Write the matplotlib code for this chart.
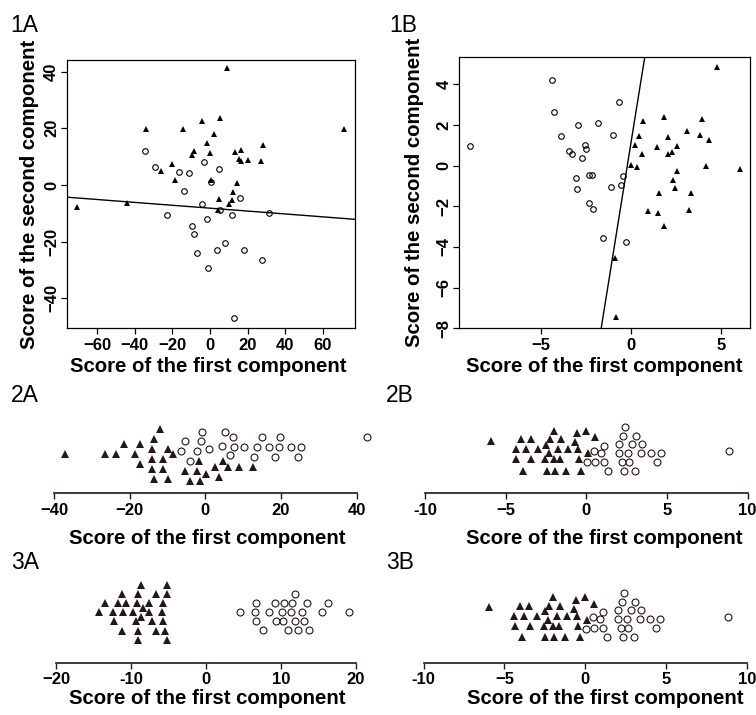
import matplotlib
matplotlib.use('Agg')
import matplotlib.pyplot as plt

plt.rcParams['font.family'] = ['Liberation Sans', 'DejaVu Sans']

# ---------------------------------------------------------------------------
# data
# ---------------------------------------------------------------------------
# 1A: PCA scores, triangles = group 1, circles = group 2
tri1A_x = [8.9, -34.0, -14.5, -4.1, 5.5, 2.3, -1.4, 0.0, -8.3, -9.6, 13.5, 16.5, 15.6, 16.3, 20.0,
           28.4, 27.1, 71.3, -20.2, -26.1, -18.8, 0.5, 14.2, 12.1, 5.0, 11.7, 9.9, 4.4, -70.9, -44.3]
tri1A_y = [41.2, 19.7, 19.7, 22.7, 23.8, 18.0, 14.9, 11.2, 12.0, 10.4, 11.5, 12.5, 9.3, 8.5, 8.7,
           14.0, 8.5, 19.7, 7.3, 4.8, 1.8, 1.8, 0.7, -2.6, -5.0, -5.4, -6.9, -8.8, -7.9, -6.5]
cir1A_x = [-34.6, -29.4, -16.3, -11.3, -3.4, 4.6, 0.5, -13.7, 16.0, -4.4, -23.0, 5.2, 11.5, 31.4,
           -9.4, -1.8, -8.7, 7.8, -7.1, 3.9, 17.9, 27.5, -1.1, 12.6]
cir1A_y = [12.1, 6.5, 4.5, 4.3, 8.2, 5.6, 1.2, -2.2, -4.7, -6.6, -10.5, -8.9, -10.7, -9.9,
           -14.4, -12.0, -17.4, -20.4, -24.0, -22.8, -22.8, -26.5, -29.3, -46.9]
line1A = (-8.2, -0.051)   # intercept, slope

# 1B
tri1B_x = [4.76, 0.67, 1.82, 3.94, 0.41, 2.02, 3.11, 3.80, 4.32, 0.22, 1.44, 2.54, 0.61, 2.04, 2.28,
           0.00, 0.30, 4.13, 6.04, 2.56, 2.32, 2.44, 1.52, 3.33, 0.94, 1.48, 3.19, 1.82, -0.91, -0.83]
tri1B_y = [4.84, 2.20, 2.38, 2.28, 1.48, 1.40, 1.69, 1.53, 1.28, 1.02, 0.91, 0.97, 0.56, 0.56, 0.66,
           0.01, -0.09, -0.01, -0.17, -0.25, -0.71, -1.10, -1.35, -1.33, -2.21, -2.34, -2.20, -2.97,
           -4.52, -7.46]
cir1B_x = [-8.96, -4.39, -4.28, -2.94, -3.92, -1.87, -0.68, -1.00, -3.46, -3.31, -2.56, -2.50,
           -2.72, -2.37, -2.17, -0.44, -3.06, -3.02, -1.14, -0.59, -2.37, -2.13, -1.57, -0.31]
cir1B_y = [0.99, 4.19, 2.64, 2.00, 1.46, 2.12, 3.11, 1.51, 0.71, 0.58, 1.02, 0.84,
           0.37, -0.47, -0.45, -0.50, -0.60, -1.16, -1.06, -0.94, -1.84, -2.12, -3.54, -3.75]
line1B = (1.22, 5.51)

# 2A: first component only (vertical = jitter)
tri2A_x = [-11.9, -21.4, -17.4, -13.6, -37.1, -26.5, -23.5, -18.6, -14.2, -10.0, -8.5, -17.3, -14.2,
           -11.3, -1.8, 4.8, -14.0, -11.1, -5.3, -2.1, 2.6, 6.1, 8.9, 12.7, 0.1, -13.5, -10.0, -4.0,
           -1.4, 3.6]
tri2A_j = [6.43, 4.93, 4.93, 5.4, 3.93, 3.93, 3.93, 3.93, 4.4, 4.4, 3.93, 2.93, 3.4,
           3.4, 3.23, 3.23, 2.4, 2.4, 2.27, 2.27, 2.6, 2.6, 2.6, 2.6, 1.93, 1.4, 1.4, 1.27,
           1.27, 1.6]
cir2A_x = [-1.0, 5.3, -5.5, -1.1, 7.2, 15.0, 19.8, 42.7, -6.4, -2.1, 1.1, 4.3, 7.7, 10.3, 13.6,
           16.8, 19.6, 22.6, 25.3, -4.0, 6.5, 12.9, 18.5, 24.5]
cir2A_j = [6.17, 6.17, 5.27, 5.27, 5.6, 5.6, 5.6, 5.6, 4.27, 4.27, 4.4, 4.73, 4.6, 4.6, 4.6,
           4.6, 4.6, 4.6, 4.6, 3.27, 3.83, 3.6, 3.6, 3.6]

# 2B (3B shows the same scores)
tri2B_x = [-5.93, -4.03, -3.45, -2.00, -2.25, -1.59, -0.56, 0.00, 0.52, -0.68, -2.52, -4.38, -3.76,
           -2.99, -2.31, -1.73, -1.11, -0.51, 0.08, -4.34, -3.41, -2.58, -2.02, -1.63, -0.43, -3.92,
           -2.46, -1.94, -1.24, -0.31]
tri2B_j = [5.27, 5.4, 5.4, 6.27, 5.4, 5.4, 6.0, 6.27, 5.6, 5.1, 4.83, 4.4, 4.4,
           4.4, 4.0, 4.4, 4.4, 4.4, 4.0, 3.4, 3.4, 3.4, 3.4, 3.4, 3.4, 2.27,
           2.27, 2.27, 2.27, 2.27]
cir2B_x = [2.42, 2.30, 3.06, 1.10, 2.01, 2.83, 3.47, 0.48, 0.89, 2.01, 2.58, 3.37, 4.03, 4.61,
           0.06, 0.52, 1.10, 2.23, 2.63, 4.40, 1.35, 2.32, 3.00, 8.85]
cir2B_j = [6.67, 5.77, 5.77, 4.77, 4.93, 4.93, 4.93, 4.27, 4.07, 4.07, 4.07, 4.07, 4.07, 4.07,
           3.1, 3.17, 3.17, 3.17, 3.17, 3.17, 2.27, 2.27, 2.27, 4.27]

# 3A
tri3A_x = [-8.71, -5.24, -11.24, -9.11, -6.67, -5.24, -13.47, -11.69, -10.71, -9.24, -7.56, -5.78,
           -8.44, -14.22, -12.44, -11.02, -9.69, -7.60, -5.91, -8.67, -12.22, -9.33, -7.24, -5.78,
           -11.24, -9.11, -6.67, -5.47, -9.11, -5.24]
tri3A_j = [7.77, 7.77, 6.87, 6.87, 6.87, 6.87, 5.93, 5.93, 5.93, 5.93, 5.93, 5.93,
           5.5, 5.03, 5.03, 5.03, 5.03, 5.03, 5.03, 4.53, 4.17, 4.17, 4.17, 4.17,
           3.2, 3.2, 3.2, 3.2, 2.27, 2.27]
cir3A_x = [11.87, 6.67, 9.24, 10.40, 11.47, 13.51, 16.22, 4.53, 6.53, 8.44, 10.09, 11.33, 12.80,
           15.42, 19.11, 6.62, 9.33, 10.31, 11.87, 13.07, 7.64, 10.89, 12.22, 13.78]
cir3A_j = [6.87, 6.0, 6.0, 6.0, 6.0, 6.0, 6.0, 5.03, 5.03, 5.03, 5.03, 5.03, 5.03,
           5.03, 5.03, 4.17, 4.17, 4.17, 4.17, 4.17, 3.27, 3.27, 3.27, 3.27]

xlab = 'Score of the first component'
ylab = 'Score of the second component'

# ---------------------------------------------------------------------------
W, H = 756, 715
fig = plt.figure(figsize=(W / 100, H / 100), dpi=100)
INK = '#231815'


def add_ax(l, t, r, b):
    # axes placed by pixel box (left, top, right, bottom)
    return fig.add_axes([l / W, 1 - b / H, (r - l) / W, (b - t) / H])


def bold_ticks(ax):
    for t in ax.get_xticklabels() + ax.get_yticklabels():
        t.set_fontweight('bold')
        t.set_fontsize(12)


def scatter_panel(ax, tx, ty, cx, cy, line, xlim, ylim, xt, xtl, yt, ytl):
    ax.tick_params(axis='x', length=4, width=0.9, pad=3)
    ax.tick_params(axis='y', length=4, width=0.9, pad=1.5)
    ax.plot(cx, cy, 'o', ms=4.0, mfc='none', mec='k', mew=0.8)
    ax.plot(tx, ty, '^', ms=4.6, color='k', mew=0)
    ax.axline((0, line[0]), slope=line[1], color='k', lw=1.0)
    ax.set_xlim(xlim)
    ax.set_ylim(ylim)
    ax.set_xticks(xt, xtl)
    ax.set_yticks(yt, ytl, rotation=90, va='center')
    for s in ax.spines.values():
        s.set_linewidth(0.9)
    bold_ticks(ax)


def strip_panel(ax, tx, tj, cx, cj, xlim, ylim, bounds, xt, xtl):
    ax.tick_params(axis='x', length=4, width=1.0, color=INK, pad=3)
    ax.plot(tx, tj, '^', ms=5.2, color=INK, mew=0, clip_on=False)
    ax.plot(cx, cj, 'o', ms=5.0, mfc='none', mec=INK, mew=0.8, clip_on=False)
    ax.set_xlim(xlim)
    ax.set_ylim(ylim)
    for s in ['top', 'right', 'left']:
        ax.spines[s].set_visible(False)
    ax.spines['bottom'].set_bounds(*bounds)
    ax.spines['bottom'].set_linewidth(1.2)
    ax.spines['bottom'].set_color(INK)
    ax.set_yticks([])
    ax.set_xticks(xt, xtl)
    ax.patch.set_visible(False)
    bold_ticks(ax)


def put_xlabel(ax, xa, ya):
    ax.set_xlabel(xlab, fontsize=14.7, fontweight='bold')
    ax.xaxis.set_label_coords(xa, ya)
    ax.xaxis.label.set_va('baseline')


def put_ylabel(ax, xa):
    ax.set_ylabel(ylab, fontsize=14.7, fontweight='bold')
    ax.yaxis.set_label_coords(xa, 0.5)
    ax.yaxis.label.set_va('baseline')


M = '\u2212'

# 1A
ax = add_ax(66.7, 60, 355, 328.3)
scatter_panel(ax, tri1A_x, tri1A_y, cir1A_x, cir1A_y, line1A, (-76.2, 77.1), (-50.6, 44.1),
              [-60, -40, -20, 0, 20, 40, 60], [M + '60', M + '40', M + '20', '0', '20', '40', '60'],
              [-40, -20, 0, 20, 40], [M + '40', M + '20', '0', '20', '40'])
put_xlabel(ax, 0.49, -0.162)
put_ylabel(ax, -0.110)

# 1B
ax = add_ax(459, 57.3, 750.3, 328.3)
scatter_panel(ax, tri1B_x, tri1B_y, cir1B_x, cir1B_y, line1B, (-9.57, 6.61), (-8.0, 5.33),
              [-5, 0, 5], [M + '5', '0', '5'],
              [-8, -6, -4, -2, 0, 2, 4], [M + '8', M + '6', M + '4', M + '2', '0', '2', '4'])
put_xlabel(ax, 0.5, -0.160)
put_ylabel(ax, -0.134)

# 2A
ax = add_ax(40, 413.3, 375, 493.3)
strip_panel(ax, tri2A_x, tri2A_j, cir2A_x, cir2A_j, (-43.73, 44.89), (0, 8), (-40, 40),
            [-40, -20, 0, 20, 40], [M + '40', M + '20', '0', '20', '40'])
put_xlabel(ax, 0.5, -0.64)

# 2B
ax = add_ax(420, 413.3, 752, 493.3)
strip_panel(ax, tri2B_x, tri2B_j, cir2B_x, cir2B_j, (-10.31, 10.27), (0, 8), (-10, 10),
            [-10, -5, 0, 5, 10], ['-10', M + '5', '0', '5', '10'])
put_xlabel(ax, 0.556, -0.64)

# 3A
ax = add_ax(40, 582.7, 375, 662.7)
strip_panel(ax, tri3A_x, tri3A_j, cir3A_x, cir3A_j, (-22.13, 22.53), (0, 8), (-20, 20),
            [-20, -10, 0, 10, 20], [M + '20', '-10', '0', '10', '20'])
put_xlabel(ax, 0.5, -0.51)

# 3B (same scores as 2B, drawn slightly higher above its axis)
ax = add_ax(420, 582.7, 752, 662.7)
strip_panel(ax, tri2B_x, tri2B_j, cir2B_x, cir2B_j, (-10.22, 10.31), (-0.3, 7.7), (-10, 10),
            [-10, -5, 0, 5, 10], ['-10', M + '5', '0', '5', '10'])
put_xlabel(ax, 0.557, -0.51)

# panel letters
for txt, x, y in [('1A', 10, 31.7), ('1B', 389.7, 31.7), ('2A', 10.6, 402),
                  ('2B', 386, 402), ('3A', 10.6, 569), ('3B', 386, 569)]:
    fig.text(x / W, 1 - y / H, txt, fontsize=16.5, va='baseline', ha='left')

fig.savefig('out.png', dpi=100)
